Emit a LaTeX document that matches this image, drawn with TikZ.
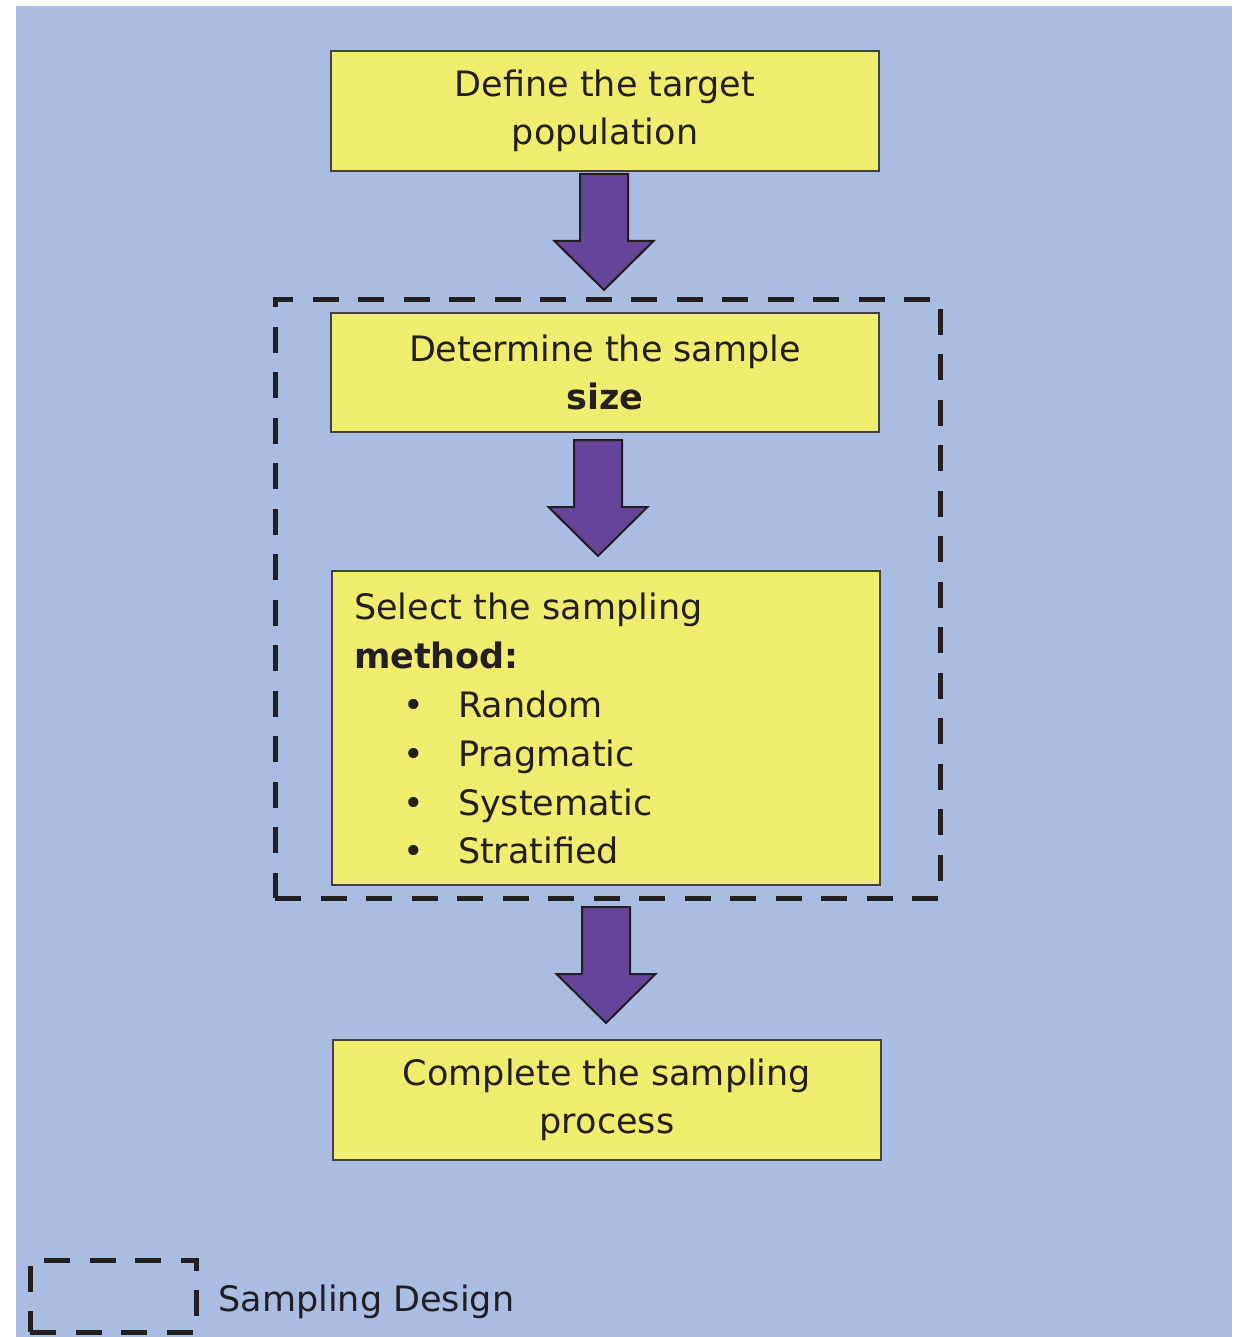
\documentclass[tikz,border=0pt]{standalone}
\usepackage{fontspec}
\setmainfont{DejaVu Sans}
\usetikzlibrary{calc}
\definecolor{bgblue}{HTML}{A9BDE3}
\definecolor{boxyellow}{HTML}{F0EC6E}
\definecolor{arrpurple}{HTML}{66449A}
\definecolor{inkdark}{HTML}{231F20}
\tikzset{
  stepbox/.style={draw=inkdark!85, line width=1.2pt, fill=boxyellow, inner sep=0pt, outer sep=0pt,
    minimum width=274pt, text=inkdark, align=center, font=\fontsize{17.5}{24}\selectfont},
  groupbox/.style={draw=inkdark, line width=2.5pt, dash pattern=on 13pt off 9.75pt, inner sep=0pt, outer sep=0pt},
  blockarrow/.style={draw=inkdark, line width=1pt, fill=arrpurple, line join=miter},
  legendtext/.style={text=inkdark, inner sep=0pt, anchor=west, font=\fontsize{17.5}{24}\selectfont}
}
\newcommand{\blockarr}[1]{%
  \draw[blockarrow] (#1) ++(-24,0) -- ++(48,0) -- ++(0,67) -- ++(25.5,0) -- ++(-49.5,49) -- ++(-49.5,-49) -- ++(25.5,0) -- cycle;}
\begin{document}
\begin{tikzpicture}[x=0.5pt,y=-0.5pt]
\useasboundingbox (0,0) rectangle (1243,1337);
\fill[bgblue] (16,6) rectangle (1232,1337);
% group box
\node[groupbox, minimum width=332.5pt, minimum height=299.5pt] (sd) at (607.5,598.5) {};
% boxes
\node[stepbox, minimum height=60pt] (b1) at (605,111) {Define the target\\population};
\node[stepbox, minimum height=59.5pt] (b2) at (605,372.5) {Determine the sample\\\textbf{size}};
\node[stepbox, minimum height=157pt, align=left, text width=252pt, inner xsep=11pt] (b3) at (606,728)
  {\fontsize{17.5}{24.5}\selectfont Select the sampling\\
   \textbf{method:}\\
   \makebox[60pt][c]{•}\hspace*{-8pt}Random\\
   \makebox[60pt][c]{•}\hspace*{-8pt}Pragmatic\\
   \makebox[60pt][c]{•}\hspace*{-8pt}Systematic\\
   \makebox[60pt][c]{•}\hspace*{-8pt}Stratified};
\node[stepbox, minimum height=60pt] (b4) at (607,1100) {Complete the sampling\\process};
% arrows
\coordinate (a1) at ($(b1.south)+(-1,3)$);
\coordinate (a2) at ($(b2.south)+(-7,8)$);
\coordinate (a3) at ($(b3.south)+(0,22)$);
\blockarr{a1}
\blockarr{a2}
\blockarr{a3}
% legend
\node[groupbox, minimum width=83pt, minimum height=36pt] (lg) at (113,1296) {};
\node[legendtext] (lgt) at (218,1302) {Sampling Design};
\end{tikzpicture}
\end{document}
